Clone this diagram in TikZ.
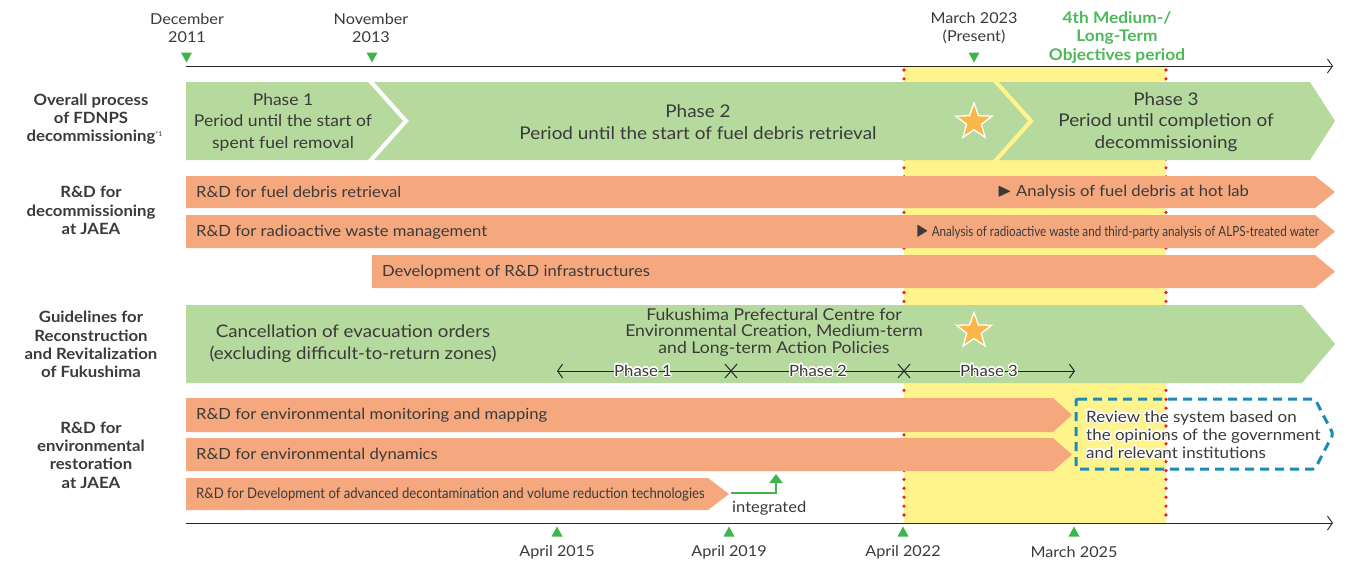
\documentclass[tikz,border=0pt]{standalone}
\usepackage{amssymb}
\usepackage{fontspec}
\setmainfont[FakeStretch=1.08]{Lato}
\setsansfont[FakeStretch=1.08]{Lato}
\usepackage{contour}
\contourlength{1.3pt}
\usetikzlibrary{arrows.meta,shapes.geometric}
\definecolor{bargreen}{HTML}{B6D99D}
\definecolor{barorange}{HTML}{F5A87E}
\definecolor{hiyellow}{HTML}{FFF38B}
\definecolor{dotred}{HTML}{E62129}
\definecolor{markgreen}{HTML}{3FB44A}
\definecolor{titlegreen}{HTML}{4DB857}
\definecolor{txt}{HTML}{3A3A3A}
\definecolor{dashblue}{HTML}{1B8CB8}
\definecolor{starorange}{HTML}{FBB548}
\tikzset{
  every node/.style={inner sep=0pt, text=txt},
  rowlabel/.style={align=center, font=\bfseries\fontsize{15.5}{18.3}\selectfont},
  datelabel/.style={align=center, font=\fontsize{15}{18}\selectfont},
  phasetext/.style={align=center, font=\fontsize{17.5}{21.5}\selectfont},
  bartext/.style={anchor=west, font=\fontsize{15.4}{18}\selectfont},
  axisline/.style={line width=0.9pt, draw=black!85, -{Straight Barb[length=5pt,width=14pt,line width=0.9pt]}},
  reddots/.style={draw=dotred, line width=3.6pt, line cap=round, dash pattern=on 0pt off 8.9pt},
  starmark/.style={star, star points=5, star point ratio=2.45, fill=starorange, draw=white, line width=1.3pt, minimum size=38pt},
  downtri/.pic={\fill[markgreen] (-5.5,-5) -- (5.5,-5) -- (0,5) -- cycle;},
  uptri/.pic={\fill[markgreen] (-5.5,5) -- (5.5,5) -- (0,-5) -- cycle;},
}
\begin{document}
\begin{tikzpicture}[x=1pt,y=-1pt]
\useasboundingbox (0,0) rectangle (1357,562);
% highlight period
\fill[hiyellow] (904,66) rectangle (1166,523);
\draw[reddots] (904,70) -- (904,523);
\draw[reddots] (1166,70) -- (1166,523);
% axes
\coordinate (ta1) at (186,66); \coordinate (ta2) at (1333,66);
\coordinate (ba1) at (186,523); \coordinate (ba2) at (1333,523);
\draw[axisline] (ta1) -- (ta2);
\draw[axisline] (ba1) -- (ba2);
% top markers and dates
\pic at (186.5,57.5) {downtri};
\pic at (372,57.5) {downtri};
\pic at (974,57.5) {downtri};
\node[datelabel] (d2011) at (187,28) {December\\2011};
\node[datelabel] (d2013) at (371,28) {November\\2013};
\node[datelabel] (d2023) at (974,28) {March 2023\\(Present)};
\node[align=center, text=titlegreen, font=\bfseries\fontsize{16}{18.5}\selectfont] (ltp) at (1117,37) {4th Medium-/\\Long-Term\\Objectives period};
% bottom markers and dates
\pic at (557,531.5) {uptri};
\pic at (729,531.5) {uptri};
\pic at (903,531.5) {uptri};
\pic at (1074,531.5) {uptri};
\node[datelabel] (a2015) at (557,552) {April 2015};
\node[datelabel] (a2019) at (729,552) {April 2019};
\node[datelabel] (a2022) at (903,552) {April 2022};
\node[datelabel] (m2025) at (1074,552) {March 2025};
% row labels
\node[rowlabel] (l1) at (91,119) {Overall process\\of FDNPS\\decommissioning\rlap{\raisebox{5pt}{\mdseries\fontsize{6.5}{7}\selectfont *1}}};
\node[rowlabel] (l2) at (91,210.5) {R\&D for\\decommissioning\\at JAEA};
\node[rowlabel] (l3) at (91,344.5) {Guidelines for\\Reconstruction\\and Revitalization\\of Fukushima};
\node[rowlabel] (l4) at (91,455) {R\&D for\\environmental\\restoration\\at JAEA};
% phases
\fill[bargreen] (186,82) -- (368,82) -- (403,121) -- (368,160) -- (186,160) -- cycle;
\fill[bargreen] (374,82) -- (993,82) -- (1028,121) -- (993,160) -- (374,160) -- (409,121) -- cycle;
\fill[bargreen] (999,82) -- (1310,82) -- (1335,121) -- (1310,160) -- (999,160) -- (1034,121) -- cycle;
\node[phasetext, font=\fontsize{16.2}{21.5}\selectfont] (p1) at (283,122) {Phase 1\\Period until the start of\\spent fuel removal};
\node[phasetext] (p2) at (698,122) {Phase 2\\Period until the start of fuel debris retrieval};
\node[phasetext] (p3) at (1166,122) {Phase 3\\Period until completion of\\decommissioning};
\node[starmark] (s1) at (974,122) {};
% R&D for decommissioning
\fill[barorange] (186,176) -- (1315,176) -- (1335,192) -- (1315,208) -- (186,208) -- cycle;
\fill[barorange] (186,215) -- (1315,215) -- (1335,231.5) -- (1315,248) -- (186,248) -- cycle;
\fill[barorange] (372,255) -- (1315,255) -- (1335,271.5) -- (1315,288) -- (372,288) -- cycle;
\node[bartext] (r1) at (196,192) {R\&D for fuel debris retrieval};
\node[bartext] (r1b) at (997,192) {\fontsize{19}{14}\selectfont$\blacktriangleright$\fontsize{15.4}{18}\selectfont\ Analysis of fuel debris at hot lab};
\node[bartext] (r2) at (196,232) {R\&D for radioactive waste management};
\node[bartext] (r2b) at (916,232) {\scalebox{0.77}[1]{\fontsize{14}{16}\selectfont\scalebox{1.5}{$\blacktriangleright$}\ Analysis of radioactive waste and third-party analysis of ALPS-treated water}};
\node[bartext] (r3) at (382,272) {Development of R\&D infrastructures};
% Guidelines
\fill[bargreen] (186,305) -- (1302,305) -- (1335,344) -- (1302,383) -- (186,383) -- cycle;
\node[phasetext, font=\fontsize{17.3}{22}\selectfont] (g1) at (353,344) {Cancellation of evacuation orders\\(excluding difficult-to-return zones)};
\node[align=center, font=\fontsize{16.3}{16.5}\selectfont] (g2) at (774,332) {Fukushima Prefectural Centre for\\Environmental Creation, Medium-term\\and Long-term Action Policies};
\node[starmark, minimum size=37pt] (s2) at (974,331) {};
\coordinate (ga) at (557,371); \coordinate (gx1) at (731,371); \coordinate (gx2) at (904,371); \coordinate (gb) at (1075,371);
\draw[line width=1pt, black!85, {Straight Barb[length=5pt,width=14pt,line width=1pt]}-{Straight Barb[length=5pt,width=14pt,line width=1pt]}] (ga) -- (gb);
\draw[line width=1pt, black!85] ([shift={(-6,-7)}]gx1) -- ([shift={(6,7)}]gx1) ([shift={(-6,7)}]gx1) -- ([shift={(6,-7)}]gx1);
\draw[line width=1pt, black!85] ([shift={(-6,-7)}]gx2) -- ([shift={(6,7)}]gx2) ([shift={(-6,7)}]gx2) -- ([shift={(6,-7)}]gx2);
\node[font=\fontsize{15.5}{16}\selectfont] (ph1) at (643,371) {\contour{white}{Phase 1}};
\node[font=\fontsize{15.5}{16}\selectfont] (ph2) at (818,371) {\contour{white}{Phase 2}};
\node[font=\fontsize{15.5}{16}\selectfont] (ph3) at (989,371) {\contour{white}{Phase 3}};
% R&D for environmental restoration
\fill[barorange] (186,398) -- (1053,398) -- (1072,415) -- (1053,432) -- (186,432) -- cycle;
\fill[barorange] (186,438) -- (1053,438) -- (1072,454.5) -- (1053,471) -- (186,471) -- cycle;
\fill[barorange] (186,478) -- (708,478) -- (729,494) -- (708,510) -- (186,510) -- cycle;
\node[bartext] (e1) at (196,415) {R\&D for environmental monitoring and mapping};
\node[bartext] (e2) at (196,455) {R\&D for environmental dynamics};
\node[bartext] (e3) at (196,494) {\scalebox{0.84}[1]{\fontsize{14.5}{16}\selectfont R\&D for Development of advanced decontamination and volume reduction technologies}};
% integrated arrow
\coordinate (i1) at (731,493); \coordinate (i2) at (776,474);
\draw[markgreen, line width=2.6pt, -{Triangle[length=9pt,width=13pt]}] (i1) -| (i2);
\node[anchor=west, font=\fontsize{15.3}{16}\selectfont] (int) at (732,508) {integrated};
% review box
\draw[dashblue, line width=3pt, dash pattern=on 9pt off 6pt, rounded corners=2pt] (1076,399) -- (1315,399) -- (1333,434) -- (1315,469) -- (1076,469) -- cycle;
\node[anchor=west, align=left, font=\fontsize{15.7}{18}\selectfont] (rv) at (1086,435) {\contour{white}{Review the system based on}\\\contour{white}{the opinions of the government}\\\contour{white}{and relevant institutions}};
\end{tikzpicture}
\end{document}
